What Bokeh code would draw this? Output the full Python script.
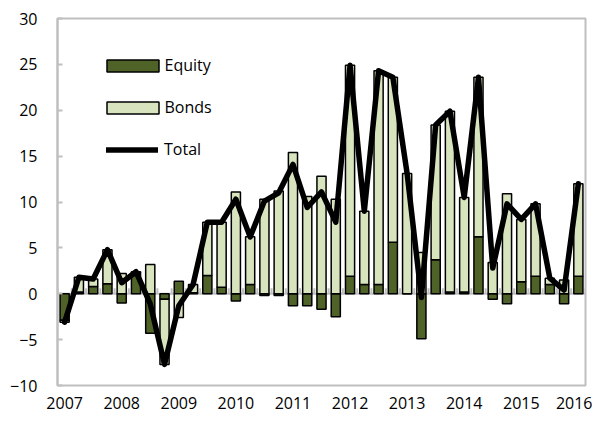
import numpy as np
from bokeh.plotting import figure
from bokeh.models import (Range1d, FixedTicker, SingleIntervalTicker, Legend,
                          LegendItem, Span, ColumnDataSource)
from bokeh.embed import file_html
from bokeh.resources import INLINE

years = ["2007", "2008", "2009", "2010", "2011", "2012", "2013", "2014", "2015", "2016"]
quarters = [f"{y}Q{q}" for y in years for q in (1, 2, 3, 4)][:37]

equity = [-2.9, 0.2, 0.8, 1.1, -1.0, 2.3, -4.3, -0.6, 1.35, 0.1,
          2.0, 0.7, -0.8, 1.0, -0.2, -0.2, -1.3, -1.3, -1.7, -2.5,
          1.9, 1.0, 1.0, 5.6, 0.0, -4.9, 3.7, 0.2, 0.2, 6.2,
          -0.6, -1.1, 1.3, 1.9, 1.0, -1.1, 1.9]
bonds = [-0.2, 1.6, 0.8, 3.7, 2.2, 0.1, 3.2, -7.1, -2.6, 0.9,
         5.8, 7.1, 11.1, 5.2, 10.3, 11.2, 15.4, 10.6, 12.8, 10.3,
         23.0, 8.0, 23.3, 18.0, 13.1, 4.5, 14.7, 19.7, 10.3, 17.4,
         3.4, 10.9, 6.8, 7.9, 0.7, 1.5, 10.1]
total = [-3.1, 1.8, 1.6, 4.8, 1.2, 2.4, -1.1, -7.7, -1.3, 1.0,
         7.8, 7.8, 10.3, 6.2, 10.1, 11.0, 14.1, 9.4, 11.1, 7.8,
         24.9, 9.0, 24.3, 23.6, 13.1, -0.4, 18.4, 19.9, 10.5, 23.6,
         2.8, 9.8, 8.1, 9.8, 1.7, 0.4, 12.0]

n = len(quarters)
x = np.arange(n)

# stacked bar positions (positives and negatives stack separately)
pos = np.zeros(n)
neg = np.zeros(n)
stacks = []
for vals in (equity, bonds):
    v = np.array(vals, dtype=float)
    bottom = np.where(v >= 0, pos, neg)
    top = bottom + v
    pos = np.where(v >= 0, top, pos)
    neg = np.where(v < 0, top, neg)
    stacks.append((bottom, top))

FONT = "Open Sans"
GRAY = "#BFBFBF"
DARK = "#4F6228"
LIGHT = "#D7E4BD"

p = figure(width=592, height=414, output_backend="svg", toolbar_location=None,
           x_range=Range1d(-0.5, n - 0.5), y_range=Range1d(-10, 30),
           min_border_left=57, min_border_right=7, min_border_top=18,
           min_border_bottom=29)
p.xgrid.visible = False
p.ygrid.visible = False
p.outline_line_color = GRAY
p.outline_line_width = 2
p.background_fill_color = "white"
p.border_fill_color = "white"

# zero axis line and category tick marks
p.add_layout(Span(location=0, dimension="width", line_color=GRAY,
                  line_width=2, level="underlay"))
bnd = np.arange(n + 1) - 0.5
p.segment(x0=bnd, y0=np.zeros(n + 1), x1=bnd, y1=np.full(n + 1, 0.6),
          line_color=GRAY, line_width=2, level="underlay")

src = ColumnDataSource(dict(x=x, eb=stacks[0][0], et=stacks[0][1],
                            bb=stacks[1][0], bt=stacks[1][1], total=total))
r_eq = p.vbar(x="x", width=0.64, bottom="eb", top="et", source=src,
              fill_color=DARK, line_color="black", line_width=1.5)
r_bd = p.vbar(x="x", width=0.64, bottom="bb", top="bt", source=src,
              fill_color=LIGHT, line_color="black", line_width=1.5)
r_tot = p.line(x="x", y="total", source=src, line_color="black", line_width=5.5,
               line_join="round", line_cap="round")

# axes
p.yaxis.ticker = SingleIntervalTicker(interval=5)
p.yaxis.major_tick_in = 5
p.yaxis.major_tick_out = 0
p.yaxis.minor_tick_line_color = None
p.yaxis.axis_line_color = GRAY
p.yaxis.axis_line_width = 2
p.yaxis.major_tick_line_color = GRAY
p.yaxis.major_tick_line_width = 2
p.yaxis.major_label_text_font = FONT
p.yaxis.major_label_text_font_size = "16px"
p.yaxis.major_label_text_color = "black"
p.yaxis.major_label_standoff = 16

q1 = [i for i, q in enumerate(quarters) if q.endswith("Q1")]
p.xaxis.ticker = FixedTicker(ticks=q1)
p.xaxis.major_label_overrides = {i: quarters[i][:4] for i in q1}
p.xaxis.major_tick_line_color = None
p.xaxis.minor_tick_line_color = None
p.xaxis.axis_line_color = None
p.xaxis.major_label_text_font = FONT
p.xaxis.major_label_text_font_size = "16px"
p.xaxis.major_label_text_color = "black"
p.xaxis.major_label_standoff = 5

common = dict(padding=0, margin=0, label_text_font=FONT,
              label_text_font_size="16px", label_text_color="black",
              border_line_color=None, background_fill_alpha=0, label_height=15)
leg_eq = Legend(items=[LegendItem(label="Equity", renderers=[r_eq])],
                location=(42.5, 309), glyph_width=65, glyph_height=15,
                label_standoff=0, **common)
leg_bd = Legend(items=[LegendItem(label="Bonds", renderers=[r_bd])],
                location=(42.5, 267), glyph_width=65, glyph_height=15,
                label_standoff=0, **common)
leg_tot = Legend(items=[LegendItem(label="Total", renderers=[r_tot])],
                 location=(49, 225), glyph_width=52, glyph_height=15,
                 label_standoff=6, **common)
for lg in (leg_eq, leg_bd, leg_tot):
    p.add_layout(lg)

open("out.html", "w").write(file_html(p, INLINE))
